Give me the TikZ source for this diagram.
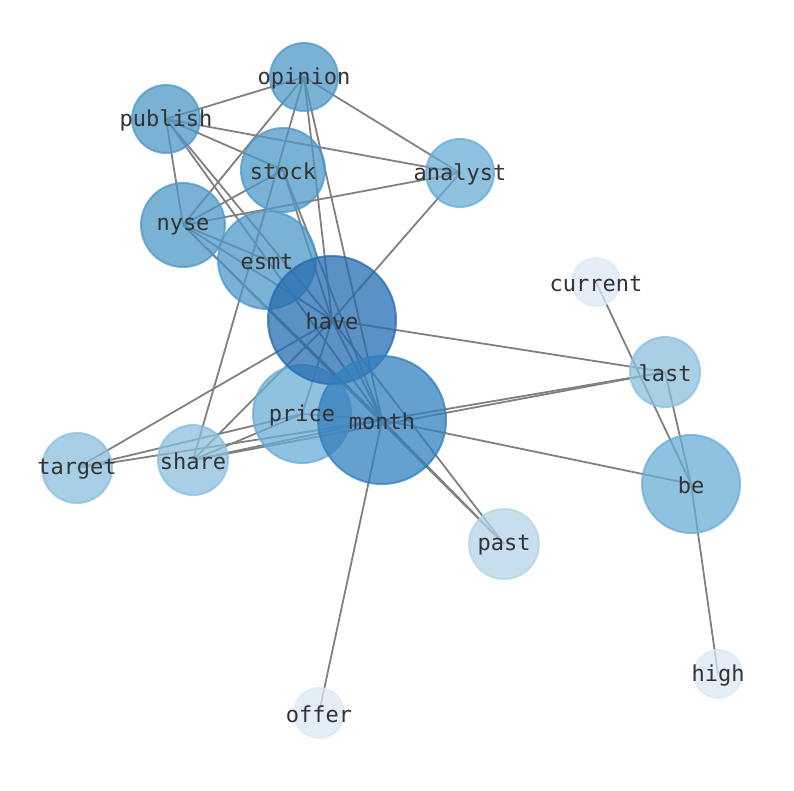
\documentclass[tikz,border=0pt]{standalone}
\usepackage{fontspec}
\setmonofont{DejaVu Sans Mono}
\definecolor{edgegray}{RGB}{128,128,128}
\definecolor{txt}{RGB}{51,51,51}
\definecolor{cA}{RGB}{36,108,176}
\definecolor{cB}{RGB}{50,128,190}
\definecolor{cC}{RGB}{78,152,200}
\definecolor{cD}{RGB}{106,172,214}
\definecolor{cE}{RGB}{140,191,222}
\definecolor{cF}{RGB}{179,211,231}
\definecolor{cG}{RGB}{219,232,246}
\begin{document}
\begin{tikzpicture}[x=1pt,y=-1pt,
  nd/.style={circle,inner sep=0pt,line width=2pt,fill opacity=0.75,draw opacity=0.75},
  nA/.style={nd,fill=cA,draw=cA},
  nB/.style={nd,fill=cB,draw=cB},
  nC/.style={nd,fill=cC,draw=cC},
  nD/.style={nd,fill=cD,draw=cD},
  nE/.style={nd,fill=cE,draw=cE},
  nF/.style={nd,fill=cF,draw=cF},
  nG/.style={nd,fill=cG,draw=cG},
  lbl/.style={font=\ttfamily\fontsize{22}{22}\selectfont,text=txt,inner sep=0pt,yshift=-1.5pt},
  ed/.style={draw=edgegray,line width=1.8pt}]
\useasboundingbox (0,0) rectangle (794,790);
% coordinates of centres
\coordinate (opinion) at (304,77);
\coordinate (publish) at (166,119);
\coordinate (stock) at (283,170);
\coordinate (analyst) at (460,173);
\coordinate (nyse) at (183,225);
\coordinate (esmt) at (267,260);
\coordinate (have) at (332,320);
\coordinate (current) at (596,282);
\coordinate (last) at (665,372);
\coordinate (price) at (302,414);
\coordinate (month) at (382,420);
\coordinate (target) at (77,468);
\coordinate (share) at (193,460);
\coordinate (be) at (691,484);
\coordinate (past) at (504,544);
\coordinate (high) at (718,674);
\coordinate (offer) at (319,713);
% edges
\foreach \a/\b in {publish/opinion,publish/analyst,publish/stock,publish/nyse,publish/have,publish/month,
  opinion/analyst,opinion/nyse,opinion/share,opinion/have,opinion/month,
  stock/nyse,stock/have,stock/month,
  analyst/nyse,analyst/have,
  nyse/have,nyse/month,nyse/past,nyse/esmt,
  have/last,have/target,have/share,have/month,have/past,have/price,
  price/share,price/target,price/month,
  month/last,month/be,month/offer,month/past,month/target,month/share,
  share/last,current/be,last/be,be/high}
  \draw[ed] (\a) -- (\b);
% nodes
\node[nC,minimum size=68pt] (n-opinion) at (opinion) {};
\node[nC,minimum size=68pt] (n-publish) at (publish) {};
\node[nC,minimum size=84pt] (n-stock) at (stock) {};
\node[nD,minimum size=68pt] (n-analyst) at (analyst) {};
\node[nC,minimum size=84pt] (n-nyse) at (nyse) {};
\node[nC,minimum size=98pt] (n-esmt) at (esmt) {};
\node[nG,minimum size=48pt] (n-current) at (current) {};
\node[nE,minimum size=70pt] (n-last) at (last) {};
\node[nD,minimum size=98pt] (n-price) at (price) {};
\node[nA,minimum size=128pt] (n-have) at (have) {};
\node[nB,minimum size=128pt] (n-month) at (month) {};
\node[nE,minimum size=70pt] (n-target) at (target) {};
\node[nE,minimum size=70pt] (n-share) at (share) {};
\node[nD,minimum size=98pt] (n-be) at (be) {};
\node[nF,minimum size=70pt] (n-past) at (past) {};
\node[nG,minimum size=48pt] (n-high) at (high) {};
\node[nG,minimum size=50pt] (n-offer) at (offer) {};
% labels
\foreach \w in {opinion,publish,stock,analyst,nyse,esmt,current,last,price,have,month,target,share,be,past,high,offer}
  \node[lbl] (t-\w) at (\w) {\w};
\end{tikzpicture}
\end{document}
